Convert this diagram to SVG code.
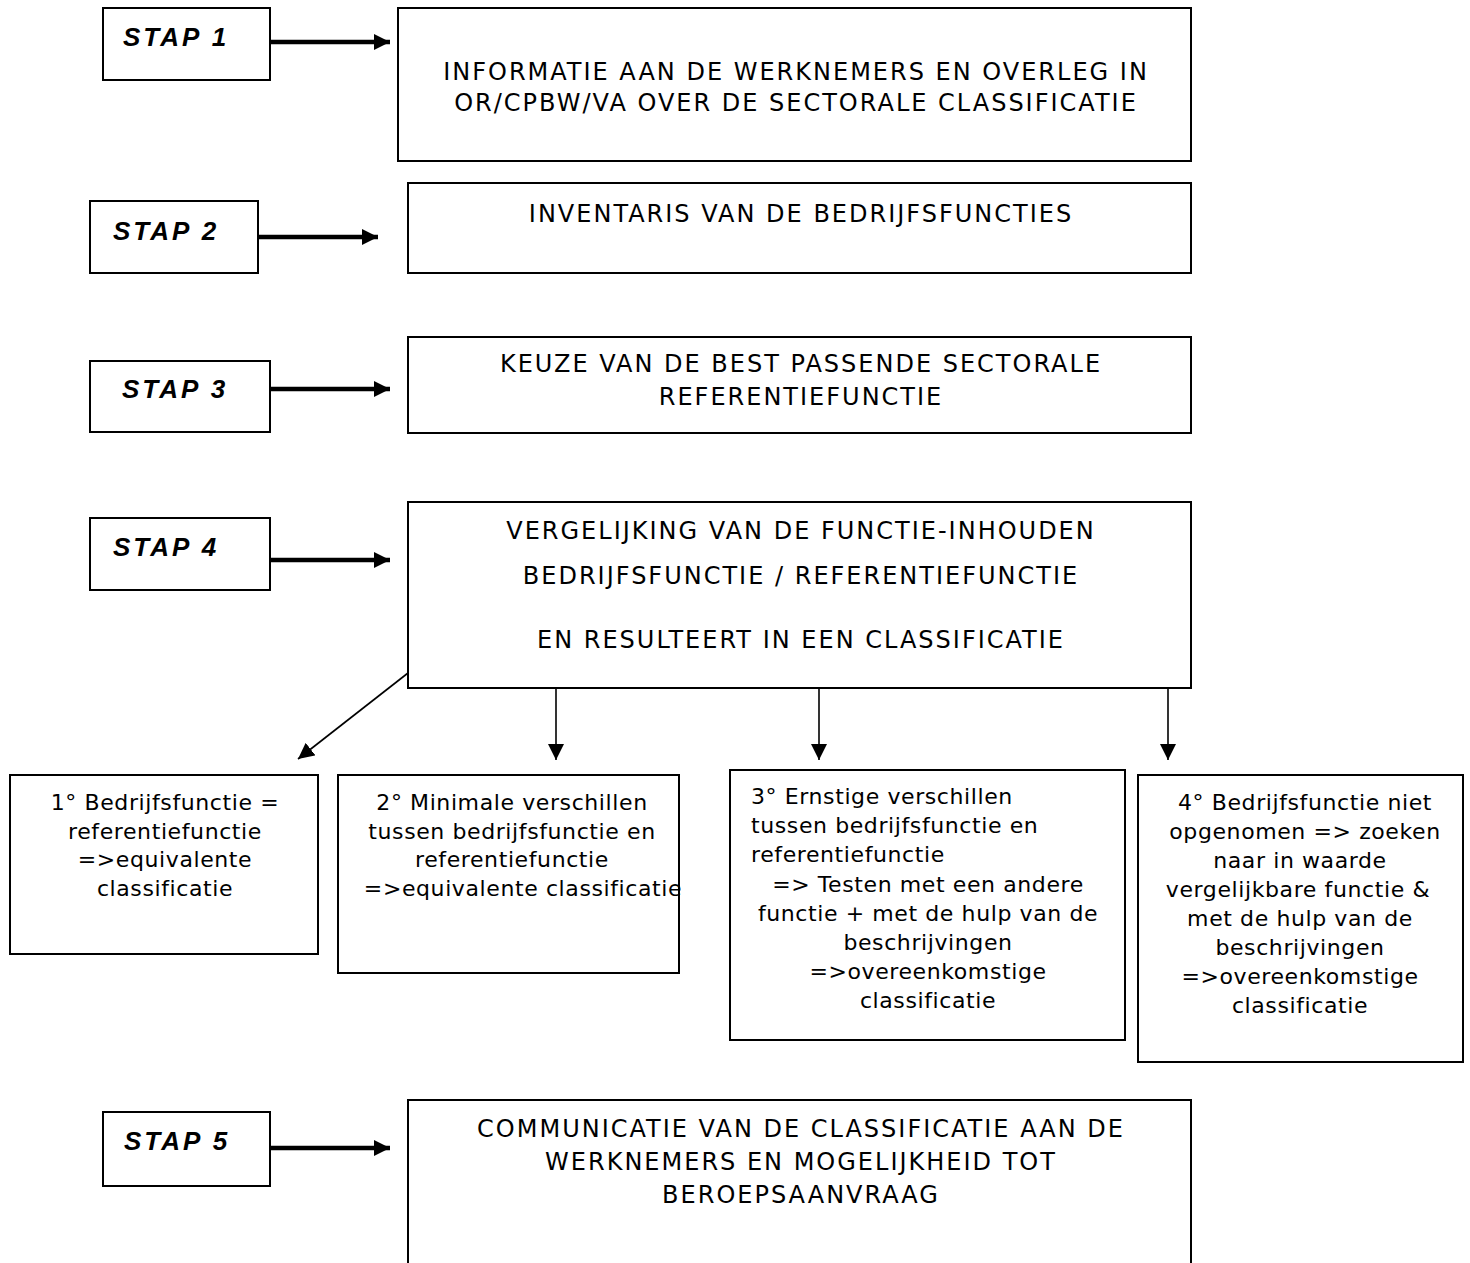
<svg xmlns="http://www.w3.org/2000/svg" width="1470" height="1263" viewBox="0 0 1470 1263">
<defs>
<style>
.box{fill:#fff;stroke:#000;stroke-width:2}
.stap{font-family:"Liberation Sans",Arial,sans-serif;font-weight:bold;font-style:italic;font-size:26px;letter-spacing:3px;fill:#000}
.hd{font-family:"DejaVu Sans",Verdana,sans-serif;font-size:24px;letter-spacing:2px;fill:#000;text-anchor:middle}
.tx{font-family:"DejaVu Sans",Verdana,sans-serif;font-size:22px;letter-spacing:0.6px;fill:#000}
.c{text-anchor:middle}
.thick{stroke:#000;stroke-width:4.3;fill:none}
.thin{stroke:#000;stroke-width:1.6;fill:none}
</style>
<marker id="ah" markerUnits="userSpaceOnUse" viewBox="0 0 16 16" markerWidth="16" markerHeight="16" refX="16" refY="8" orient="auto">
<path d="M0,0 L16,8 L0,16 Z" fill="#000"/>
</marker>
</defs>

<g id="stap1"><rect class="box" x="103" y="8" width="167" height="72"/><text class="stap" x="123" y="46">STAP 1</text></g>
<g id="box1"><rect class="box" x="398" y="8" width="793" height="153"/>
<text class="hd" x="796" y="80">INFORMATIE AAN DE WERKNEMERS EN OVERLEG IN</text>
<text class="hd" x="796" y="111">OR/CPBW/VA OVER DE SECTORALE CLASSIFICATIE</text></g>

<g id="stap2"><rect class="box" x="90" y="201" width="168" height="72"/><text class="stap" x="113" y="240">STAP 2</text></g>
<g id="box2"><rect class="box" x="408" y="183" width="783" height="90"/>
<text class="hd" x="801" y="222">INVENTARIS VAN DE BEDRIJFSFUNCTIES</text></g>

<g id="stap3"><rect class="box" x="90" y="361" width="180" height="71"/><text class="stap" x="122" y="398">STAP 3</text></g>
<g id="box3"><rect class="box" x="408" y="337" width="783" height="96"/>
<text class="hd" x="801" y="372">KEUZE VAN DE BEST PASSENDE SECTORALE</text>
<text class="hd" x="801" y="405">REFERENTIEFUNCTIE</text></g>

<g id="stap4"><rect class="box" x="90" y="518" width="180" height="72"/><text class="stap" x="113" y="556">STAP 4</text></g>
<g id="box4"><rect class="box" x="408" y="502" width="783" height="186"/>
<text class="hd" x="801" y="539">VERGELIJKING VAN DE FUNCTIE-INHOUDEN</text>
<text class="hd" x="801" y="584">BEDRIJFSFUNCTIE / REFERENTIEFUNCTIE</text>
<text class="hd" x="801" y="648">EN RESULTEERT IN EEN CLASSIFICATIE</text></g>

<g id="opt1"><rect class="box" x="10" y="775" width="308" height="179"/>
<text class="tx c" x="165" y="810">1° Bedrijfsfunctie =</text>
<text class="tx c" x="165" y="839">referentiefunctie</text>
<text class="tx c" x="165" y="867">=&gt;equivalente</text>
<text class="tx c" x="165" y="896">classificatie</text></g>

<g id="opt2"><rect class="box" x="338" y="775" width="341" height="198"/>
<text class="tx c" x="512" y="810">2° Minimale verschillen</text>
<text class="tx c" x="512" y="839">tussen bedrijfsfunctie en</text>
<text class="tx c" x="512" y="867">referentiefunctie</text>
<text class="tx c" x="523" y="896">=&gt;equivalente classificatie</text></g>

<g id="opt3"><rect class="box" x="730" y="770" width="395" height="270"/>
<text class="tx" x="751" y="804">3° Ernstige verschillen</text>
<text class="tx" x="751" y="833">tussen bedrijfsfunctie en</text>
<text class="tx" x="751" y="862">referentiefunctie</text>
<text class="tx c" x="928" y="892">=&gt; Testen met een andere</text>
<text class="tx c" x="928" y="921">functie + met de hulp van de</text>
<text class="tx c" x="928" y="950">beschrijvingen</text>
<text class="tx c" x="928" y="979">=&gt;overeenkomstige</text>
<text class="tx c" x="928" y="1008">classificatie</text></g>

<g id="opt4"><rect class="box" x="1138" y="775" width="325" height="287"/>
<text class="tx c" x="1305" y="810">4° Bedrijfsfunctie niet</text>
<text class="tx c" x="1305" y="839">opgenomen =&gt; zoeken</text>
<text class="tx c" x="1300" y="868">naar in waarde</text>
<text class="tx c" x="1298" y="897">vergelijkbare functie &amp;</text>
<text class="tx c" x="1300" y="926">met de hulp van de</text>
<text class="tx c" x="1300" y="955">beschrijvingen</text>
<text class="tx c" x="1300" y="984">=&gt;overeenkomstige</text>
<text class="tx c" x="1300" y="1013">classificatie</text></g>

<g id="stap5"><rect class="box" x="103" y="1112" width="167" height="74"/><text class="stap" x="124" y="1150">STAP 5</text></g>
<g id="box5"><rect class="box" x="408" y="1100" width="783" height="180"/>
<text class="hd" x="801" y="1137">COMMUNICATIE VAN DE CLASSIFICATIE AAN DE</text>
<text class="hd" x="801" y="1170">WERKNEMERS EN MOGELIJKHEID TOT</text>
<text class="hd" x="801" y="1203">BEROEPSAANVRAAG</text></g>

<g id="connectors">
<line class="thick" x1="270" y1="42" x2="390" y2="42" marker-end="url(#ah)"/>
<line class="thick" x1="258" y1="237" x2="378" y2="237" marker-end="url(#ah)"/>
<line class="thick" x1="270" y1="389" x2="390" y2="389" marker-end="url(#ah)"/>
<line class="thick" x1="270" y1="560" x2="390" y2="560" marker-end="url(#ah)"/>
<line class="thick" x1="270" y1="1148" x2="390" y2="1148" marker-end="url(#ah)"/>
<line class="thin" x1="408" y1="673" x2="298" y2="759" marker-end="url(#ah)"/>
<line class="thin" x1="556" y1="688" x2="556" y2="760" marker-end="url(#ah)"/>
<line class="thin" x1="819" y1="688" x2="819" y2="760" marker-end="url(#ah)"/>
<line class="thin" x1="1168" y1="688" x2="1168" y2="760" marker-end="url(#ah)"/>
</g>
</svg>
